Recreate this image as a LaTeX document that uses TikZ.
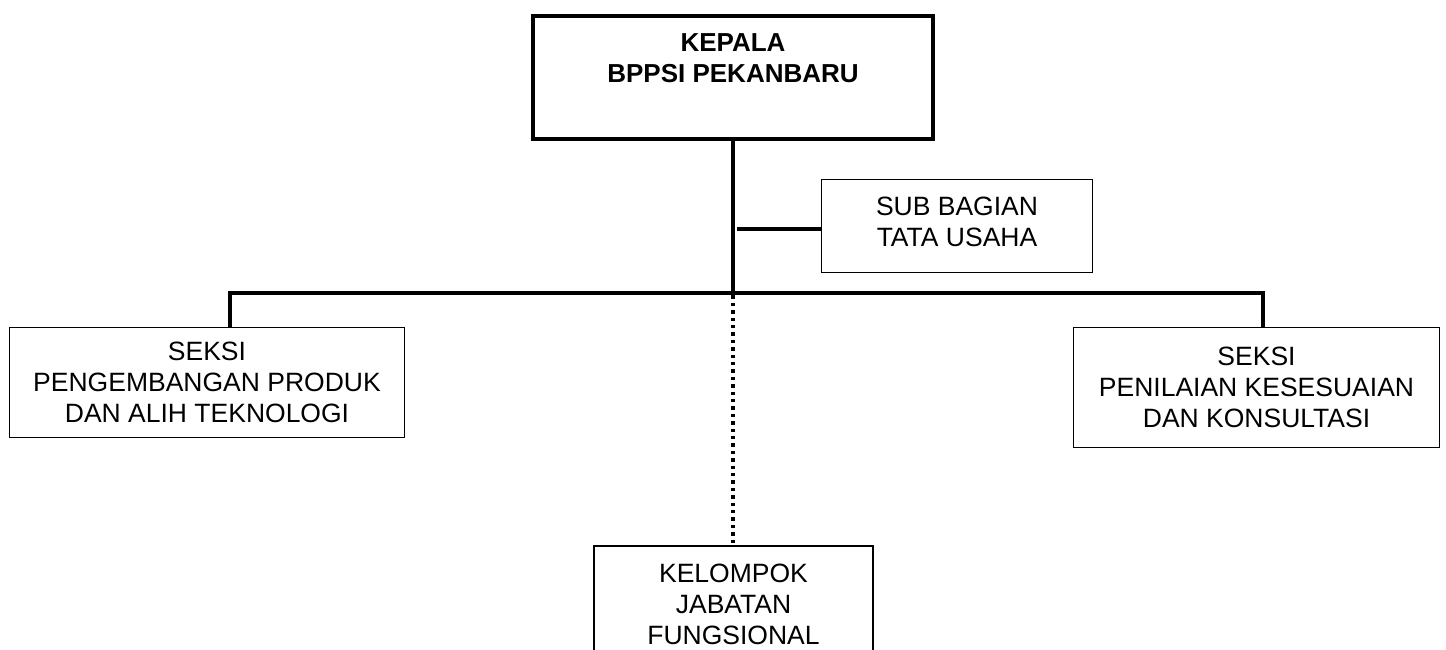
\documentclass[tikz,border=0pt]{standalone}
\usepackage{fontspec}
\setmainfont{Liberation Sans}
\begin{document}
\begin{tikzpicture}[x=1pt,y=-1pt,
  every node/.style={font=\fontsize{26.5}{31}\selectfont, align=center, inner sep=0pt},
  headbox/.style={draw, line width=4pt, font=\fontsize{26}{31}\selectfont\bfseries},
  unitbox/.style={draw, line width=1.6pt},
  conn/.style={line width=3.2pt},
  dotconn/.style={line width=3.2pt, dash pattern=on 3.4pt off 4pt}]
\useasboundingbox (0,0) rectangle (1446,650);
\node[headbox, minimum width=400, minimum height=123] (head) at (733,77.5) {KEPALA\\BPPSI PEKANBARU\\[8pt]\mbox{}};
\node[unitbox, minimum width=271, minimum height=93, text depth=8pt] (sub) at (957,226) {SUB BAGIAN\\TATA USAHA};
\node[unitbox, minimum width=395, minimum height=110] (left) at (207,382.5) {SEKSI\\PENGEMBANGAN PRODUK\\DAN ALIH TEKNOLOGI};
\node[unitbox, minimum width=366, minimum height=120] (right) at (1256.5,387.5) {SEKSI\\PENILAIAN KESESUAIAN\\DAN KONSULTASI};
\node[unitbox, minimum width=279, minimum height=117] (fung) at (733.5,604.5) {KELOMPOK\\JABATAN\\FUNGSIONAL};
\coordinate (j) at (733,293);
\coordinate (hl) at (230,293);
\coordinate (hr) at (1263,293);
\coordinate (s) at (737,229);
\draw[conn] (head.south) -- (j);
\draw[conn, line cap=rect] (hl) -- (hr);
\draw[conn] (hl) -- (hl |- left.north);
\draw[conn] (hr) -- (hr |- right.north);
\draw[conn] (s) -- (s -| sub.west);
\draw[dotconn] ([yshift=5pt]j) -- (j |- fung.north);
\end{tikzpicture}
\end{document}
